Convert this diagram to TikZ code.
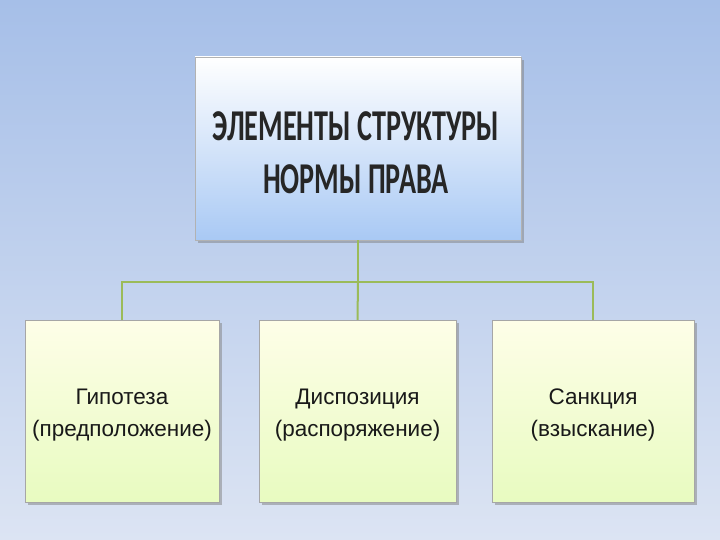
\documentclass[tikz,border=0pt]{standalone}
\usepackage{fontspec}
\usepackage{graphicx}
\setmainfont{Liberation Sans}
\newfontfamily\headfont{Carlito}
\usetikzlibrary{shadows}
\definecolor{bgtop}{HTML}{A6BFE8}
\definecolor{bgbot}{HTML}{DCE4F3}
\definecolor{hdbot}{HTML}{A9C9F4}
\definecolor{lftop}{HTML}{FEFEE8}
\definecolor{lfbot}{HTML}{E8FBC0}
\definecolor{lnc}{HTML}{9BBB59}
\tikzset{
  leaf/.style={draw=gray!70, top color=lftop, bottom color=lfbot, drop shadow, align=center, font=\fontsize{23}{32}\selectfont, text=black!90, inner sep=0pt, text depth=0pt},
  conn/.style={draw=lnc, line width=2pt}
}
\begin{document}
\begin{tikzpicture}[x=1pt,y=-1pt]
\useasboundingbox (0,0) rectangle (720,540);
\fill[top color=bgtop, bottom color=bgbot] (0,0) rectangle (720,540);
\node[draw=gray!60, top color=white, bottom color=hdbot, drop shadow, minimum width=326pt, minimum height=183pt] (top) at (358,148.5) {};
\node[align=center, font=\headfont\bfseries\fontsize{44}{53}\selectfont, text=black!85] (ttl) at (356,153) {\scalebox{0.64}[1]{ЭЛЕМЕНТЫ СТРУКТУРЫ}\\\scalebox{0.64}[1]{НОРМЫ ПРАВА}};
\node[leaf, minimum width=194pt, minimum height=182pt] (a) at (122,411) {};
\node[leaf, minimum width=197pt, minimum height=182pt] (b) at (357.5,411) {};
\node[leaf, minimum width=202pt, minimum height=182pt] (c) at (593,411) {};
\node[align=center, font=\fontsize{22.5}{32}\selectfont, text=black!90] (at) at (122,415) {Гипотеза\\(предположение)};
\node[align=center, font=\fontsize{22.5}{32}\selectfont, text=black!90] (bt) at (357.5,415) {Диспозиция\\(распоряжение)};
\node[align=center, font=\fontsize{22.5}{32}\selectfont, text=black!90] (ct) at (593,415) {Санкция\\(взыскание)};
\coordinate (j) at (358,282);
\draw[conn] (top.south) -- (j);
\draw[conn] (a.north) -- (122,282) -- (593,282) -- (c.north);
\draw[conn] (j) -- (b.north);
\end{tikzpicture}
\end{document}
